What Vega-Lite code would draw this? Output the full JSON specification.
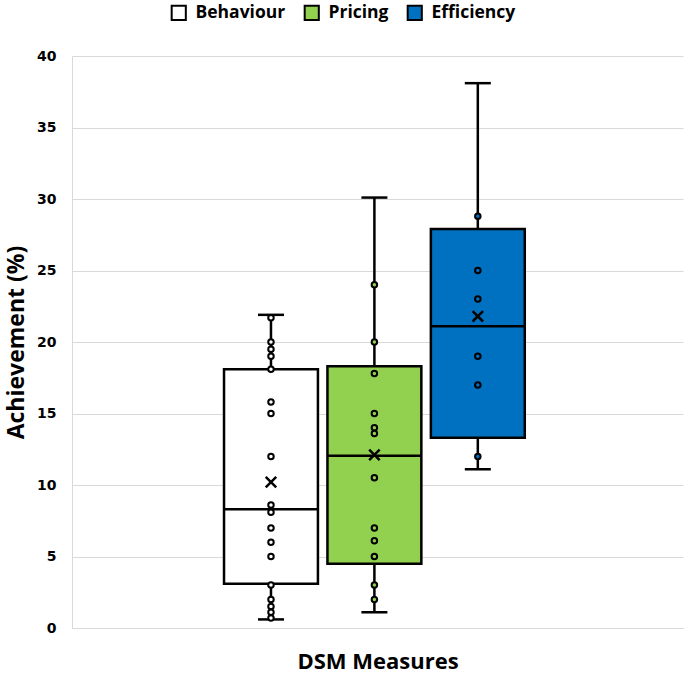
{
  "$schema": "https://vega.github.io/schema/vega-lite/v6.json",
  "width": 611,
  "height": 572,
  "autosize": "none",
  "padding": {"left": 72, "top": 56, "right": 2, "bottom": 49},
  "background": "white",
  "config": {
    "view": {"stroke": null},
    "font": "Open Sans",
    "legend": {
      "orient": "none",
      "legendX": 98,
      "legendY": -52,
      "direction": "horizontal",
      "symbolType": "square",
      "symbolSize": 200,
      "symbolStrokeColor": "black",
      "symbolStrokeWidth": 2,
      "labelFont": "Open Sans",
      "labelFontWeight": "bold",
      "labelFontSize": 17.5,
      "labelColor": "black",
      "labelOffset": 8,
      "columnPadding": 14,
      "title": null
    }
  },
  "datasets": {
    "summary": [
      {"series": "Behaviour", "min": 0.6, "q1": 3.1, "median": 8.3, "q3": 18.1, "max": 21.9, "mean": 10.2},
      {"series": "Pricing", "min": 1.1, "q1": 4.5, "median": 12.05, "q3": 18.3, "max": 30.1, "mean": 12.1},
      {"series": "Efficiency", "min": 11.1, "q1": 13.3, "median": 21.1, "q3": 27.9, "max": 38.1, "mean": 21.8}
    ],
    "points": [
      {"series": "Behaviour", "value": 21.7},
      {"series": "Behaviour", "value": 20.0},
      {"series": "Behaviour", "value": 19.5},
      {"series": "Behaviour", "value": 19.0},
      {"series": "Behaviour", "value": 18.1},
      {"series": "Behaviour", "value": 15.8},
      {"series": "Behaviour", "value": 15.0},
      {"series": "Behaviour", "value": 12.0},
      {"series": "Behaviour", "value": 8.6},
      {"series": "Behaviour", "value": 8.1},
      {"series": "Behaviour", "value": 7.0},
      {"series": "Behaviour", "value": 6.0},
      {"series": "Behaviour", "value": 5.0},
      {"series": "Behaviour", "value": 3.0},
      {"series": "Behaviour", "value": 2.0},
      {"series": "Behaviour", "value": 1.5},
      {"series": "Behaviour", "value": 1.1},
      {"series": "Behaviour", "value": 0.7},
      {"series": "Pricing", "value": 24.0},
      {"series": "Pricing", "value": 20.0},
      {"series": "Pricing", "value": 17.8},
      {"series": "Pricing", "value": 15.0},
      {"series": "Pricing", "value": 14.0},
      {"series": "Pricing", "value": 13.6},
      {"series": "Pricing", "value": 10.5},
      {"series": "Pricing", "value": 7.0},
      {"series": "Pricing", "value": 6.1},
      {"series": "Pricing", "value": 5.0},
      {"series": "Pricing", "value": 3.0},
      {"series": "Pricing", "value": 2.0},
      {"series": "Efficiency", "value": 28.8},
      {"series": "Efficiency", "value": 25.0},
      {"series": "Efficiency", "value": 23.0},
      {"series": "Efficiency", "value": 19.0},
      {"series": "Efficiency", "value": 17.0},
      {"series": "Efficiency", "value": 12.0}
    ]
  },
  "encoding": {
    "x": {
      "field": "series",
      "type": "nominal",
      "scale": {"domain": ["_a", "Behaviour", "Pricing", "Efficiency", "_b"], "paddingInner": 0.092, "paddingOuter": 0.5, "align": 0.47},
      "axis": {
        "title": "DSM Measures",
        "labels": false,
        "ticks": false,
        "grid": false,
        "domainColor": "#d9d9d9",
        "domainWidth": 1,
        "titleFont": "Open Sans",
        "titleFontWeight": "bold",
        "titleFontSize": 22,
        "titleColor": "black",
        "titlePadding": 23
      }
    }
  },
  "layer": [
    {
      "data": {"name": "summary"},
      "mark": {"type": "rule", "color": "black", "strokeWidth": 2.5, "opacity": 1},
      "encoding": {
        "y": {
          "field": "min",
          "type": "quantitative",
          "scale": {"domain": [0, 40], "nice": false},
          "axis": {
            "title": "Achievement (%)",
            "values": [0, 5, 10, 15, 20, 25, 30, 35, 40],
            "ticks": false,
            "grid": true,
            "gridColor": "#d9d9d9",
            "gridWidth": 1,
            "domainColor": "#d9d9d9",
            "domainWidth": 1,
            "labelFont": "DejaVu Sans",
            "labelFontWeight": "bold",
            "labelFontSize": 14,
            "labelColor": "black",
            "labelPadding": 16,
            "titleFont": "Open Sans",
            "titleFontWeight": "bold",
            "titleFontSize": 23,
            "titleColor": "black",
            "titlePadding": 8
          }
        },
        "y2": {"field": "max"}
      }
    },
    {
      "data": {"name": "summary"},
      "mark": {"type": "tick", "color": "black", "size": 26, "thickness": 2.5, "opacity": 1},
      "encoding": {"y": {"field": "min", "type": "quantitative"}}
    },
    {
      "data": {"name": "summary"},
      "mark": {"type": "tick", "color": "black", "size": 26, "thickness": 2.5, "opacity": 1},
      "encoding": {"y": {"field": "max", "type": "quantitative"}}
    },
    {
      "data": {"name": "summary"},
      "mark": {"type": "bar", "stroke": "black", "strokeWidth": 2.5, "opacity": 1},
      "encoding": {
        "y": {"field": "q1", "type": "quantitative"},
        "y2": {"field": "q3"},
        "fill": {
          "field": "series",
          "type": "nominal",
          "sort": ["Behaviour", "Pricing", "Efficiency"],
          "scale": {"domain": ["Behaviour", "Pricing", "Efficiency"], "range": ["#ffffff", "#92d050", "#0070c0"]}
        }
      }
    },
    {
      "data": {"name": "summary"},
      "mark": {"type": "tick", "color": "black", "size": 94, "thickness": 2.5, "opacity": 1},
      "encoding": {"y": {"field": "median", "type": "quantitative"}}
    },
    {
      "data": {"name": "points"},
      "mark": {"type": "point", "shape": "circle", "filled": true, "stroke": "black", "strokeWidth": 2, "size": 30, "opacity": 1},
      "encoding": {
        "y": {"field": "value", "type": "quantitative"},
        "fill": {"field": "series", "type": "nominal"}
      }
    },
    {
      "data": {"name": "summary"},
      "mark": {"type": "point", "shape": "M-1,-1L1,1M-1,1L1,-1", "filled": false, "stroke": "black", "strokeWidth": 2.5, "size": 110, "opacity": 1},
      "encoding": {"y": {"field": "mean", "type": "quantitative"}}
    }
  ]
}
